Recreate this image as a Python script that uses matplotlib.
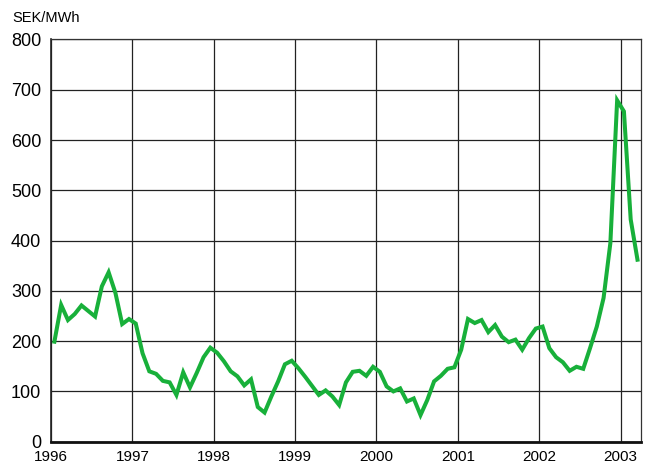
import numpy as np
import matplotlib
matplotlib.use('Agg')
import matplotlib.pyplot as plt

plt.rcParams['font.family'] = ['Liberation Sans', 'DejaVu Sans']

# monthly prices, Jan 1996 - Mar 2003 (SEK/MWh)
p1996 = [199, 272, 242, 254, 271, 260, 249, 309, 337, 296, 234, 244]
p1997 = [235, 176, 140, 135, 121, 118, 93, 138, 108, 137, 168, 187]
p1998 = [177, 160, 140, 130, 112, 124, 69, 58, 90, 120, 154, 161]
p1999 = [146, 129, 111, 93, 102, 90, 73, 118, 139, 141, 131, 149]
p2000 = [139, 110, 100, 106, 80, 86, 53, 83, 120, 131, 145, 148]
p2001 = [183, 244, 236, 242, 218, 232, 209, 198, 203, 183, 206, 225]
p2002 = [229, 186, 168, 158, 141, 149, 145, 186, 229, 286, 395, 679]
p2003 = [657, 442, 362]

prices = p1996 + p1997 + p1998 + p1999 + p2000 + p2001 + p2002 + p2003
years = list(range(1996, 2004))
yticks = list(range(0, 801, 100))

t = 1996 + (np.arange(len(prices)) + 0.5) / 12

fig = plt.figure(figsize=(6.48, 4.63), dpi=100)
ax = fig.add_axes([0.0787, 0.046, 0.9103, 0.8687])

ax.plot(t, prices, color='#18b03a', lw=2.9, solid_joinstyle='miter')

ax.set_xlim(1996, 2003.25)
ax.set_ylim(0, 800)
ax.set_xticks(years)
ax.set_yticks(yticks)
ax.tick_params(axis='x', length=0, pad=6, labelsize=11)
ax.tick_params(axis='y', length=0, pad=7, labelsize=13)
ax.grid(True, color='#222222', lw=0.9)
ax.set_axisbelow(True)
for s in ['top', 'right']:
    ax.spines[s].set_color('#333333')
    ax.spines[s].set_linewidth(0.9)
ax.spines['left'].set_color('#222222')
ax.spines['left'].set_linewidth(1.2)
ax.spines['bottom'].set_color('#111111')
ax.spines['bottom'].set_linewidth(2)

fig.text(0.0185, 0.961, 'SEK/MWh', fontsize=10.5, va='center', ha='left')

fig.savefig('out.png', dpi=100)
